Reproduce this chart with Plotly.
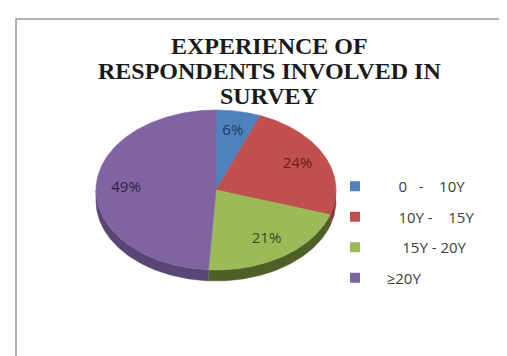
import numpy as np
import plotly.graph_objects as go

# ---- data ----
categories = ["0 - 10Y", "10Y - 15Y", "15Y - 20Y", "≥20Y"]
NB = "\u00a0"
legend_text = [
    NB * 6 + "0" + NB * 3 + "-" + NB * 4 + "10Y",
    NB * 6 + "10Y" + NB + "-" + NB * 4 + "15Y",
    NB * 7 + "15Y" + NB + "-" + NB + "20Y",
    NB * 3 + "≥20Y",
]
values = [6, 24, 21, 49]
title_lines = ["EXPERIENCE OF", "RESPONDENTS INVOLVED IN", "SURVEY"]

# ---- style ----
W, H = 507, 356
cx, cy, rx, ry, depth = 208, 182, 120, 80, 11
top_colors = ["#4F81BD", "#C0504D", "#9BBB59", "#8064A2"]
side_colors = ["#385d8a", "#8c3836", "#4f5f28", "#5a4676"]
label_colors = ["#1F3A60", "#6A1A18", "#3A4A1C", "#2A2048"]

fracs = np.array(values, dtype=float) / sum(values)
bounds = np.concatenate([[0.0], np.cumsum(fracs)]) * 2 * np.pi


def pt(t, r=1.0, dy=0.0):
    return cx + r * rx * np.sin(t), cy - r * ry * np.cos(t) + dy


fig = go.Figure()

# side (depth) bands of the front half
for i in range(len(values)):
    a = max(bounds[i], np.pi / 2)
    b = min(bounds[i + 1], 3 * np.pi / 2)
    if b > a:
        t = np.linspace(a, b, 120)
        x, y = pt(t)
        xs = np.concatenate([x, x[::-1]])
        ys = np.concatenate([y, (y + depth)[::-1]])
        fig.add_trace(go.Scatter(x=xs, y=ys, mode="lines", fill="toself",
                                 fillcolor=side_colors[i],
                                 line=dict(width=0.5, color=side_colors[i]),
                                 hoverinfo="skip", showlegend=False))

# top faces
for i in range(len(values)):
    t = np.linspace(bounds[i], bounds[i + 1], 200)
    x, y = pt(t)
    xs = np.concatenate([[cx], x, [cx]])
    ys = np.concatenate([[cy], y, [cy]])
    fig.add_trace(go.Scatter(x=xs, y=ys, mode="lines", fill="toself",
                             fillcolor=top_colors[i],
                             line=dict(width=0.6, color=top_colors[i]),
                             hoverinfo="skip", showlegend=False))

# percentage labels
mids = (bounds[:-1] + bounds[1:]) / 2
lx, ly = pt(mids, r=0.75)
for i in range(len(values)):
    fig.add_trace(go.Scatter(x=[lx[i]], y=[ly[i]], mode="text",
                             text=[f"{values[i]}%"],
                             textfont=dict(family="Open Sans", size=15, color=label_colors[i]),
                             hoverinfo="skip", showlegend=False))

# legend entries
for i in range(len(values)):
    fig.add_trace(go.Scatter(x=[None], y=[None], mode="markers",
                             marker=dict(symbol="square", size=10, color=top_colors[i]),
                             name=legend_text[i], legendgroup=str(i)))

# title
for k, line in enumerate(title_lines):
    fig.add_annotation(x=261, y=38 + 25 * k, xref="x", yref="y", text=f"<b>{line}</b>",
                       showarrow=False, xanchor="center", yanchor="middle",
                       font=dict(family="Liberation Serif", size=24, color="#1a1a1a"))

# frame
fig.add_shape(type="rect", xref="x", yref="y", x0=8, y0=11, x1=502, y1=380,
              line=dict(color="#9a9a9a", width=1.5), fillcolor="rgba(0,0,0,0)", layer="below")

fig.update_layout(
    width=W, height=H,
    margin=dict(l=0, r=0, t=0, b=0),
    paper_bgcolor="white", plot_bgcolor="white",
    xaxis=dict(range=[0, W], visible=False, fixedrange=True),
    yaxis=dict(range=[H, 0], visible=False, fixedrange=True),
    showlegend=True,
    legend=dict(x=327 / W, y=1 - 162 / H, xanchor="left", yanchor="top",
                font=dict(family="Open Sans", size=15, color="#404040"),
                tracegroupgap=8, bgcolor="rgba(0,0,0,0)"),
)

fig.write_html("out.html")
